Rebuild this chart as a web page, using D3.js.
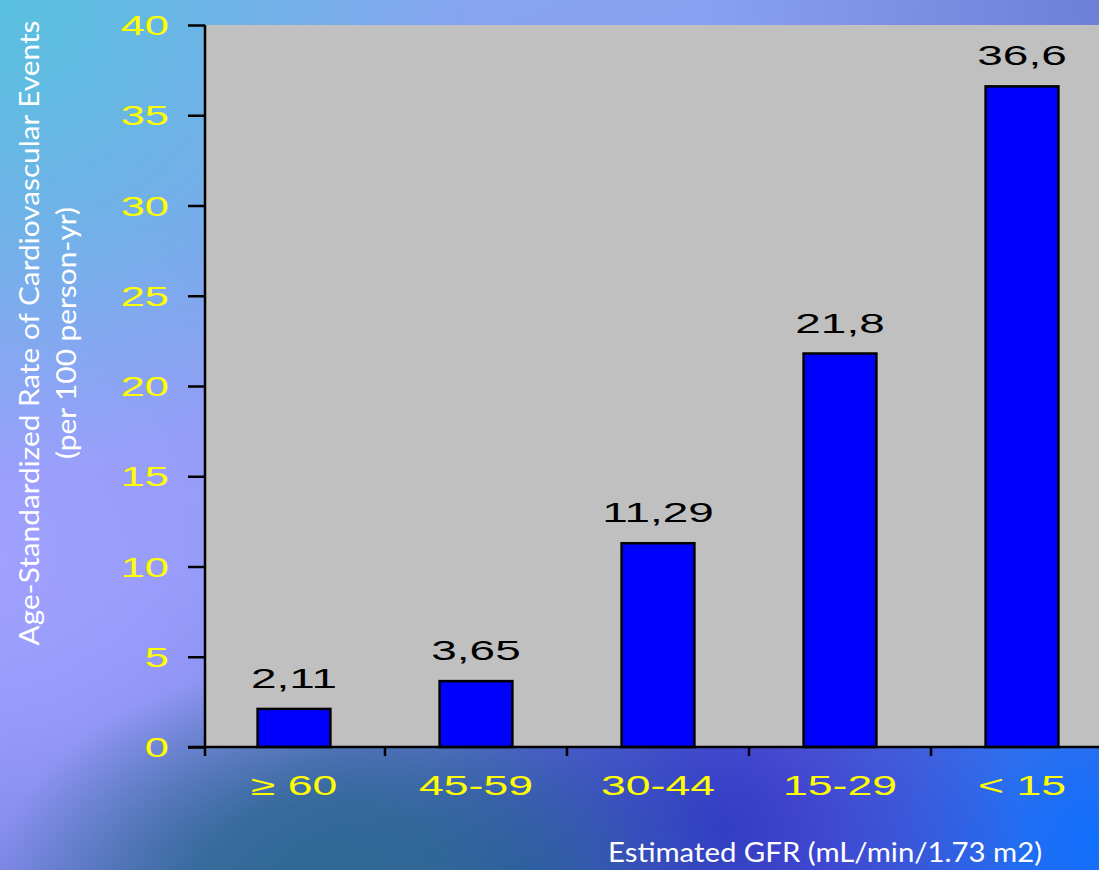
<!DOCTYPE html>
<html>
<head>
<meta charset="utf-8">
<script src="https://cdn.jsdelivr.net/npm/d3@7"></script>
<style>
html,body{margin:0;padding:0;}
body{width:1099px;height:870px;overflow:hidden;
background:
 radial-gradient(ellipse 330px 230px at 320px 895px, rgba(46,104,146,1) 0%, rgba(46,104,146,0.85) 40%, rgba(46,104,146,0) 100%),
 radial-gradient(ellipse 300px 220px at 520px 880px, rgba(46,86,172,1) 0%, rgba(46,86,172,0) 100%),
 radial-gradient(circle at 720px 830px, rgba(52,52,205,1) 0, rgba(52,52,205,0) 300px),
 radial-gradient(circle at 1099px 840px, rgba(16,112,255,1) 0, rgba(16,112,255,0) 320px),
 radial-gradient(circle at 0px 0px, rgba(88,192,222,1) 0, rgba(88,192,222,0) 480px),
 radial-gradient(circle at 0px 560px, rgba(160,160,255,1) 0, rgba(160,160,255,0) 380px),
 radial-gradient(circle at 1099px 0px, rgba(110,128,214,1) 0, rgba(110,128,214,0) 400px),
 linear-gradient(160deg, #84a8f0 0%, #9098f4 50%, #5060c8 100%);
}
svg{display:block;}
</style>
</head>
<body>
<svg id="chart" width="1099" height="870"></svg>
<script>
const categories = ["\u2265 60", "45-59", "30-44", "15-29", "< 15"];
const values = [2.11, 3.65, 11.29, 21.8, 36.6];
const valueLabels = ["2,11", "3,65", "11,29", "21,8", "36,6"];
const yTicks = [0, 5, 10, 15, 20, 25, 30, 35, 40];
const yTitle1 = "Age-Standardized Rate of Cardiovascular Events";
const yTitle2 = "(per 100 person-yr)";
const xTitle = "Estimated GFR (mL/min/1.73 m2)";

const svg = d3.select("#chart");
const pLeft = 205, pTop = 25, pBottom = 747, pRight = 1099;

const y = d3.scaleLinear().domain([0, 40]).range([pBottom, pTop]);
const x = d3.scaleBand().domain(categories).range([203, 1113]).paddingInner(0.6).paddingOuter(0.3);
const step = x.step();

// plot area
svg.append("rect").attr("x", pLeft).attr("y", pTop).attr("width", pRight - pLeft).attr("height", pBottom - pTop).attr("fill", "#c0c0c0");

// bars
svg.selectAll("rect.bar").data(values).enter().append("rect")
  .attr("class", "bar")
  .attr("x", (d, i) => x(categories[i]))
  .attr("y", d => y(d))
  .attr("width", x.bandwidth())
  .attr("height", d => y(0) - y(d))
  .attr("fill", "#0000ff")
  .attr("stroke", "#000").attr("stroke-width", 2.5);

// value labels
const vl = svg.selectAll("g.vl").data(values).enter().append("g")
  .attr("transform", (d, i) => `translate(${x(categories[i]) + x.bandwidth() / 2},${y(d) - 21})`);
vl.append("text").text((d, i) => valueLabels[i])
  .attr("text-anchor", "middle").attr("transform", "scale(1.7,1)")
  .attr("font-family", "Liberation Sans, Arial, sans-serif").attr("font-size", 27).attr("fill", "#000");

// y axis
const yAxis = d3.axisLeft(y).tickValues(yTicks).tickSize(17).tickFormat("");
const ga = svg.append("g").attr("transform", `translate(${pLeft},0)`).call(yAxis);
ga.selectAll("path,line").attr("stroke", "#000").attr("stroke-width", 2.5);
ga.select("path").attr("d", `M0,${pTop}V${pBottom}`);

const yl = svg.selectAll("g.yl").data(yTicks).enter().append("g")
  .attr("transform", d => `translate(169,${y(d) + 10})`);
yl.append("text").text(d => d).attr("text-anchor", "end").attr("transform", "scale(1.55,1)")
  .attr("font-family", "Liberation Sans, Arial, sans-serif").attr("font-size", 28).attr("fill", "#ffff00");

// x axis
svg.append("line").attr("x1", pLeft - 17).attr("x2", pRight).attr("y1", pBottom).attr("y2", pBottom)
  .attr("stroke", "#000").attr("stroke-width", 2.5);
const bounds = categories.map(c => x(c) - (step - x.bandwidth()) / 2);
svg.selectAll("line.xt").data(bounds).enter().append("line")
  .attr("x1", d => Math.max(d, pLeft)).attr("x2", d => Math.max(d, pLeft))
  .attr("y1", pBottom).attr("y2", pBottom + 9)
  .attr("stroke", "#000").attr("stroke-width", 2.5);

const xl = svg.selectAll("g.xl").data(categories).enter().append("g")
  .attr("transform", c => `translate(${x(c) + x.bandwidth() / 2},795)`);
xl.append("text").text(c => c).attr("text-anchor", "middle").attr("transform", "scale(1.65,1)")
  .attr("font-family", "Liberation Sans, Arial, sans-serif").attr("font-size", 27).attr("fill", "#ffff00");

// titles
svg.append("text").text(xTitle).attr("x", 825).attr("y", 862).attr("text-anchor", "middle")
  .attr("font-family", "Lato, sans-serif").attr("font-size", 27).attr("fill", "#fff")
  .attr("textLength", 434).attr("lengthAdjust", "spacingAndGlyphs");

const yt = svg.append("g").attr("transform", "translate(0,333) rotate(-90)");
yt.append("text").text(yTitle1).attr("x", 0).attr("y", 39).attr("text-anchor", "middle")
  .attr("font-family", "Lato, sans-serif").attr("font-size", 26).attr("fill", "#fff")
  .attr("textLength", 625).attr("lengthAdjust", "spacingAndGlyphs");
yt.append("text").text(yTitle2).attr("x", 0).attr("y", 76).attr("text-anchor", "middle")
  .attr("font-family", "Lato, sans-serif").attr("font-size", 26).attr("fill", "#fff")
  .attr("textLength", 252).attr("lengthAdjust", "spacingAndGlyphs");
</script>
</body>
</html>
